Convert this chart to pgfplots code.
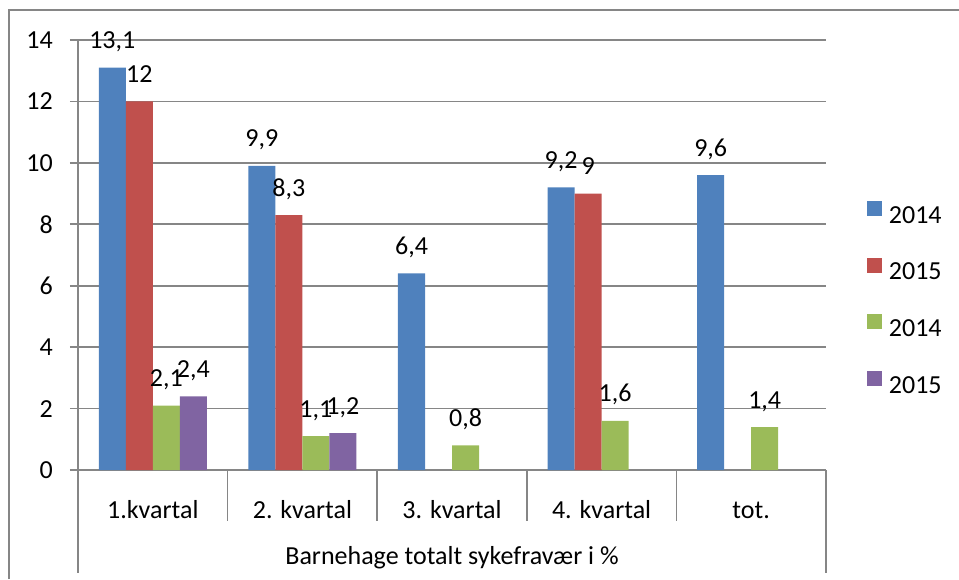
\documentclass[border=0pt]{standalone}
\usepackage{fontspec}
\setmainfont{Carlito}
\usepackage{pgfplots}
\pgfplotsset{compat=1.18}
\definecolor{c1}{HTML}{4F81BD}
\definecolor{c2}{HTML}{C0504D}
\definecolor{c3}{HTML}{9BBB59}
\definecolor{c4}{HTML}{8064A2}
\definecolor{gridgray}{RGB}{134,134,134}
\begin{document}
\fontsize{19.5}{23}\selectfont
\begin{tikzpicture}
\useasboundingbox (-58.5pt,-81.75pt) rectangle (660.75pt,352.5pt);
\begin{axis}[
    at={(0,0)}, anchor=south west,
    scale only axis, width=561pt, height=322.5pt,
    ybar=0pt, bar width=0.1805,
    xmin=-0.5, xmax=4.5, ymin=0, ymax=14,
    ytick={0,2,...,14},
    xtick={0,...,4},
    xticklabels={1.kvartal, 2. kvartal, 3. kvartal, 4. kvartal, tot.},
    xtick style={draw=none}, ytick style={draw=none},
    axis line style={draw=none},
    ymajorgrids, grid style={draw=gridgray, line width=1.2pt},
    yticklabel style={anchor=east, inner sep=0pt, xshift=-18.75pt},
    xticklabel style={anchor=base, inner sep=0pt, yshift=-32.25pt},
    xlabel={Barnehage totalt sykefravær i \%},
    every axis x label/.style={at={(axis description cs:0.5,0)}, anchor=base, yshift=-70.5pt},
    clip=false,
    nodes near coords,
    every node near coord/.append style={anchor=base, inner sep=0pt, yshift=14.25pt, black},
    /pgf/number format/use comma,
    /pgf/number format/assume math mode=true,
    legend style={draw=none, fill=none, at={(axis description cs:1.0548,0.3977)}, anchor=west,
        inner sep=0pt, row sep=23pt, nodes={inner sep=0pt},
        /tikz/every odd column/.append style={column sep=5pt}},
    legend image code/.code={\fill[#1] (0pt,0.5pt) rectangle (11.25pt,11.75pt);},
]
\addplot[fill=c1, draw=none] coordinates {(0,13.1) (1,9.9) (2,6.4) (3,9.2) (4,9.6)};
\addplot[fill=c2, draw=none] coordinates {(0,12) (1,8.3) (3,9)};
\addplot[fill=c3, draw=none] coordinates {(0,2.1) (1,1.1) (2,0.8) (3,1.6) (4,1.4)};
\addplot[fill=c4, draw=none] coordinates {(0,2.4) (1,1.2)};
\legend{2014,2015,2014,2015}
\end{axis}
\begin{scope}[xshift=-58.5pt, yshift=352.5pt, x=0.75pt, y=-0.75pt, line width=1.2pt]
\draw[gridgray] (9,579) -- (9,10) -- (959,10);
\draw[gridgray] (78,40) -- (78,573);
\draw[gridgray] (826,470) -- (826,573);
\foreach \x in {227.6,377.2,526.8,676.4} \draw[gridgray] (\x,470) -- (\x,521);
\foreach \k in {0,...,7} \draw[gridgray] (70,{470-\k*61.43}) -- (78,{470-\k*61.43});
\end{scope}
\end{tikzpicture}
\end{document}
